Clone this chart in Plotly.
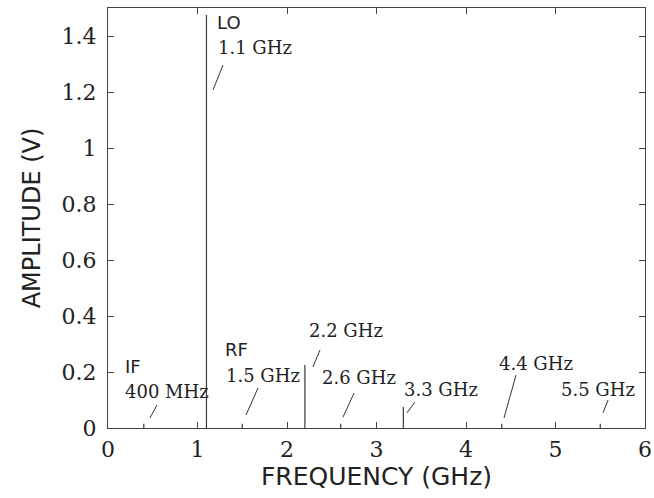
import plotly.graph_objects as go

# Spectral components
freqs_ghz = [0.4, 1.1, 1.5, 2.2, 2.6, 3.3, 4.4, 5.5]
amps_v = [0.015, 1.475, 0.015, 0.225, 0.015, 0.075, 0.015, 0.015]

# Name labels (sans serif)
name_text = ["LO", "IF", "RF"]
name_x = [1.196, 0.168, 1.285]
name_y = [1.45, 0.218, 0.279]

# Frequency labels (serif)
freq_text = ["1.1 GHz", "400 MHz", "1.5 GHz", "2.2 GHz", "2.6 GHz", "3.3 GHz", "4.4 GHz", "5.5 GHz"]
freq_x = [1.207, 0.168, 1.296, 2.223, 2.369, 3.285, 4.346, 5.039]
freq_y = [1.36, 0.129, 0.186, 0.35, 0.179, 0.136, 0.232, 0.136]

# Leader lines
lead_x0 = [1.173, 0.469, 1.542, 2.290, 2.626, 3.341, 4.425, 5.531]
lead_y0 = [1.207, 0.036, 0.046, 0.218, 0.039, 0.054, 0.036, 0.054]
lead_x1 = [1.285, 0.547, 1.676, 2.369, 2.749, 3.430, 4.559, 5.587]
lead_y1 = [1.296, 0.082, 0.143, 0.279, 0.125, 0.093, 0.189, 0.100]

xs, ys = [], []
for f, a in zip(freqs_ghz, amps_v):
    xs += [f, f, None]
    ys += [0, a, None]

fig = go.Figure()
fig.add_trace(go.Scatter(x=xs, y=ys, mode="lines",
                         line=dict(color="#3a3a3a", width=1.2),
                         hoverinfo="skip", showlegend=False))

lx, ly = [], []
for a, b, c, d in zip(lead_x0, lead_y0, lead_x1, lead_y1):
    lx += [a, c, None]
    ly += [b, d, None]
fig.add_trace(go.Scatter(x=lx, y=ly, mode="lines",
                         line=dict(color="#333333", width=1),
                         hoverinfo="skip", showlegend=False))

for t, x, y in zip(name_text, name_x, name_y):
    fig.add_annotation(x=x, y=y, text=t, showarrow=False, xanchor="left", yanchor="middle",
                       font=dict(family="DejaVu Sans", size=18, color="#222"))
for t, x, y in zip(freq_text, freq_x, freq_y):
    fig.add_annotation(x=x, y=y, text=t, showarrow=False, xanchor="left", yanchor="middle",
                       font=dict(family="DejaVu Serif", size=18, color="#222"))

axis_common = dict(showline=True, mirror="ticks", ticks="inside", ticklen=6,
                   linecolor="#444", linewidth=1, tickcolor="#444",
                   showgrid=False, zeroline=False, automargin=False,
                   tickfont=dict(family="DejaVu Serif", size=22, color="#222"))

fig.update_xaxes(range=[0, 6], dtick=1, tick0=0, ticklabelstandoff=2,
                 title=dict(text="FREQUENCY (GHz)", font=dict(family="DejaVu Sans", size=25, color="#222"), standoff=2),
                 **axis_common)
fig.update_yaxes(range=[0, 1.5], dtick=0.2, tick0=0, ticklabelstandoff=6,
                 title=dict(text="AMPLITUDE (V)", font=dict(family="DejaVu Sans", size=24, color="#222"), standoff=14),
                 **axis_common)

fig.update_layout(width=654, height=498, margin=dict(l=108, r=9, t=8, b=70, autoexpand=False),
                  paper_bgcolor="white", plot_bgcolor="white")

fig.write_html("out.html", config={"displayModeBar": False},
               post_script="document.body.style.margin='0px';")
